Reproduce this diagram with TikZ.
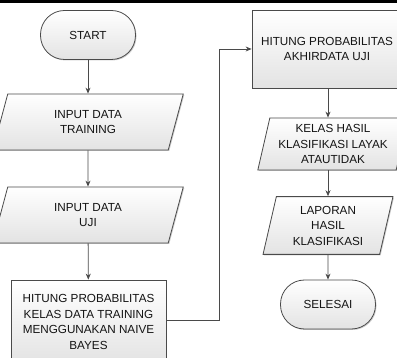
\documentclass[tikz,border=0pt]{standalone}
\usepackage{fontspec}
\setmainfont{Liberation Sans}
\usetikzlibrary{shapes.geometric,arrows.meta,shadows}
\definecolor{edge}{HTML}{4A4A4A}
\definecolor{ink}{HTML}{141414}
\begin{document}
\begin{tikzpicture}[x=1pt,y=-1pt,
  box/.style={draw=edge, line width=0.8pt, top color=white, bottom color=gray!22,
    text=ink, align=center, font=\fontsize{11.7}{15.5}\selectfont, inner sep=0pt,
    drop shadow={shadow xshift=1pt,shadow yshift=-1pt,fill=black,opacity=0.2}},
  term/.style={box, rectangle, rounded corners=24pt, minimum width=95pt, minimum height=49pt},
  io/.style={box, trapezium, trapezium left angle=75, trapezium right angle=105,
    minimum height=56pt, minimum width=129pt},
  proc/.style={box, rectangle},
  arr/.style={draw=edge, line width=0.8pt, -{Stealth[length=6pt,width=5pt]}}]
\useasboundingbox (0,0) rectangle (397,358);
\clip (0,0) rectangle (397,358);
\fill[white] (0,0) rectangle (397,358);
\fill[black] (0,0) rectangle (397,3);

\node[term] (start) at (88,35) {START};
\node[io] (in1) at (88,122) {INPUT DATA\\TRAINING};
\node[io] (in2) at (88,215) {INPUT DATA\\UJI};
\node[proc, minimum width=155pt, minimum height=84pt] (p1) at (88.5,322)
  {HITUNG PROBABILITAS\\KELAS DATA TRAINING\\MENGGUNAKAN NAIVE\\BAYES};
\node[proc, minimum width=150pt, minimum height=78pt] (p2) at (327,49)
  {HITUNG PROBABILITAS\\AKHIRDATA UJI};
\node[io, trapezium left angle=77, trapezium right angle=103, minimum height=52pt,
  minimum width=119pt, inner xsep=-7pt] (out1) at (333,144)
  {KELAS HASIL\\KLASIFIKASI LAYAK\\ATAUTIDAK};
\node[io, trapezium left angle=77, trapezium right angle=103, minimum height=57pt,
  minimum width=130pt] (out2) at (328,225.5) {LAPORAN\\HASIL\\KLASIFIKASI};
\node[term] (end) at (328,304.5) {SELESAI};
\coordinate (bend) at (219,320);
\coordinate (c1) at (p2.south -| out2.north);
\coordinate (c2) at (out1.south -| out2.north);

\draw[arr] (start) -- (in1);
\draw[arr] (in1) -- (in2);
\draw[arr] (in2) -- (p1);
\draw[arr] (p1.east |- bend) -- (bend) -- (bend |- p2.west) -- (p2.west);
\draw[arr] (c1) -- (c1 |- out1.north);
\draw[arr] (c2) -- (out2.north);
\draw[arr] (out2) -- (end);
\end{tikzpicture}
\end{document}
